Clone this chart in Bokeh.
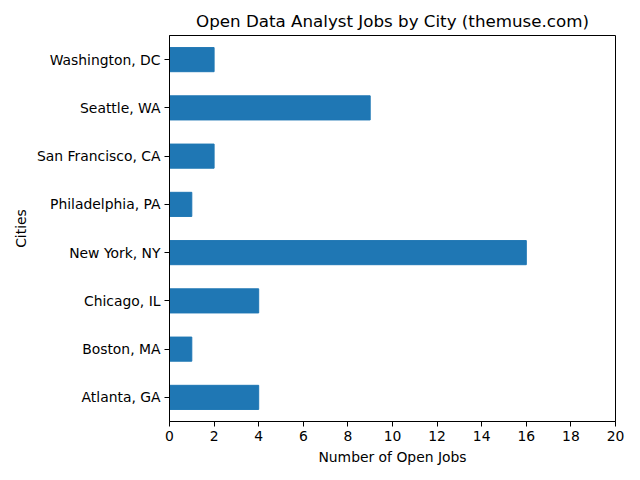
from bokeh.plotting import figure
from bokeh.models import FixedTicker, Range1d
from bokeh.embed import file_html
from bokeh.resources import INLINE

cities = ["Atlanta, GA", "Boston, MA", "Chicago, IL", "New York, NY",
          "Philadelphia, PA", "San Francisco, CA", "Seattle, WA", "Washington, DC"]
jobs = [4, 1, 4, 16, 1, 2, 9, 2]
x_ticks = [0, 2, 4, 6, 8, 10, 12, 14, 16, 18, 20]

idx = list(range(len(cities)))

p = figure(output_backend="svg", toolbar_location=None,
           frame_width=446, frame_height=386,
           min_border_left=169, min_border_right=17,
           min_border_top=35, min_border_bottom=51,
           x_range=Range1d(0, 20), y_range=Range1d(-0.5, 7.5),
           title="Open Data Analyst Jobs by City (themuse.com)")

p.hbar(y=idx, left=0, right=jobs, height=0.5, color="#1f77b4")

p.xgrid.visible = False
p.ygrid.visible = False
p.outline_line_color = "black"
p.outline_line_width = 1

p.title.align = "center"
p.title.text_font = "DejaVu Sans"
p.title.text_font_size = "16.7px"
p.title.text_font_style = "normal"
p.title.text_color = "black"

p.xaxis.ticker = FixedTicker(ticks=x_ticks)
p.yaxis.ticker = FixedTicker(ticks=idx)
p.yaxis.major_label_overrides = {i: c for i, c in enumerate(cities)}
p.xaxis.axis_label = "Number of Open Jobs"
p.yaxis.axis_label = "Cities"

for ax in (p.xaxis[0], p.yaxis[0]):
    ax.minor_tick_line_color = None
    ax.major_tick_out = 5
    ax.major_tick_in = 0
    ax.axis_line_color = "black"
    ax.major_tick_line_color = "black"
    ax.major_label_text_font = "DejaVu Sans"
    ax.major_label_text_font_size = "13.9px"
    ax.major_label_text_color = "black"
    ax.axis_label_text_font = "DejaVu Sans"
    ax.axis_label_text_font_size = "13.9px"
    ax.axis_label_text_font_style = "normal"
    ax.axis_label_text_color = "black"

p.yaxis.major_label_standoff = 4
p.xaxis.major_label_standoff = 4

open("out.html", "w").write(file_html(p, INLINE))
